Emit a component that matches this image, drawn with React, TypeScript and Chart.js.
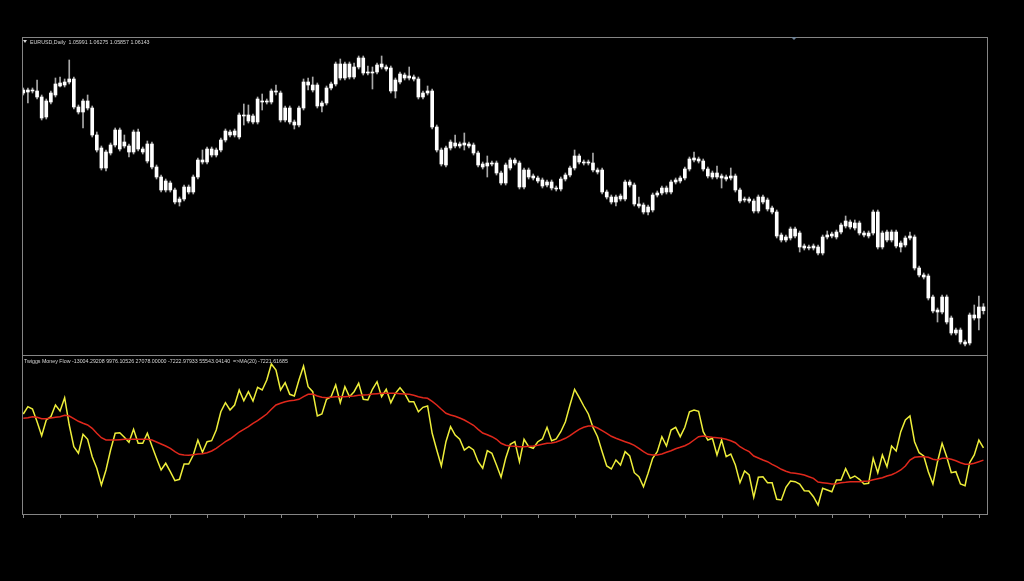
import { useEffect, useRef } from "react";
import { Chart, registerables } from "chart.js";

Chart.register(...registerables);

// EURUSD daily candles, oldest first
const opens = [
  1.1470, 1.1482, 1.1478, 1.1478, 1.1454, 1.1374, 1.1434, 1.1462, 1.1510, 1.1502,
  1.1514, 1.1526, 1.1414, 1.1394, 1.1438, 1.1410, 1.1302, 1.1250, 1.1170, 1.1230,
  1.1262, 1.1322, 1.1258, 1.1258, 1.1234, 1.1314, 1.1246, 1.1198, 1.1266, 1.1174,
  1.1134, 1.1082, 1.1110, 1.1082, 1.1034, 1.1046, 1.1094, 1.1074, 1.1134, 1.1202,
  1.1194, 1.1246, 1.1222, 1.1242, 1.1282, 1.1314, 1.1302, 1.1294, 1.1382, 1.1382,
  1.1354, 1.1354, 1.1438, 1.1434, 1.1434, 1.1478, 1.1470, 1.1362, 1.1410, 1.1354,
  1.1342, 1.1410, 1.1514, 1.1502, 1.1502, 1.1418, 1.1430, 1.1490, 1.1506, 1.1586,
  1.1530, 1.1586, 1.1534, 1.1574, 1.1610, 1.1550, 1.1554, 1.1554, 1.1574, 1.1574,
  1.1570, 1.1478, 1.1514, 1.1542, 1.1530, 1.1534, 1.1526, 1.1454, 1.1470, 1.1478,
  1.1334, 1.1242, 1.1182, 1.1250, 1.1270, 1.1258, 1.1270, 1.1266, 1.1262, 1.1230,
  1.1186, 1.1178, 1.1190, 1.1190, 1.1150, 1.1110, 1.1170, 1.1202, 1.1190, 1.1094,
  1.1162, 1.1138, 1.1130, 1.1122, 1.1102, 1.1114, 1.1090, 1.1086, 1.1126, 1.1142,
  1.1170, 1.1218, 1.1194, 1.1190, 1.1190, 1.1162, 1.1162, 1.1074, 1.1054, 1.1034,
  1.1058, 1.1046, 1.1114, 1.1102, 1.1026, 1.1022, 1.0994, 1.1002, 1.1062, 1.1070,
  1.1090, 1.1074, 1.1114, 1.1118, 1.1130, 1.1166, 1.1202, 1.1206, 1.1198, 1.1166,
  1.1134, 1.1150, 1.1138, 1.1126, 1.1130, 1.1138, 1.1082, 1.1042, 1.1046, 1.1038,
  1.0998, 1.1054, 1.1042, 1.1010, 1.0994, 1.0902, 1.0882, 1.0890, 1.0926, 1.0910,
  1.0858, 1.0850, 1.0850, 1.0854, 1.0830, 1.0894, 1.0898, 1.0894, 1.0914, 1.0938,
  1.0954, 1.0930, 1.0950, 1.0910, 1.0898, 1.0910, 1.0994, 1.0854, 1.0914, 1.0882,
  1.0914, 1.0854, 1.0862, 1.0890, 1.0894, 1.0770, 1.0742, 1.0738, 1.0654, 1.0602,
  1.0594, 1.0654, 1.0570, 1.0510, 1.0522, 1.0466, 1.0470, 1.0570, 1.0570, 1.05991,
];

const highs = [
  1.1490, 1.1490, 1.1490, 1.1522, 1.1462, 1.1446, 1.1478, 1.1530, 1.1534, 1.1526,
  1.1602, 1.1534, 1.1422, 1.1446, 1.1462, 1.1418, 1.1314, 1.1258, 1.1242, 1.1270,
  1.1330, 1.1330, 1.1302, 1.1266, 1.1322, 1.1326, 1.1254, 1.1278, 1.1274, 1.1182,
  1.1142, 1.1126, 1.1118, 1.1090, 1.1054, 1.1102, 1.1102, 1.1142, 1.1210, 1.1242,
  1.1254, 1.1254, 1.1250, 1.1290, 1.1326, 1.1322, 1.1326, 1.1390, 1.1426, 1.1422,
  1.1386, 1.1454, 1.1466, 1.1446, 1.1486, 1.1502, 1.1478, 1.1418, 1.1418, 1.1362,
  1.1418, 1.1526, 1.1530, 1.1534, 1.1510, 1.1438, 1.1498, 1.1514, 1.1594, 1.1606,
  1.1594, 1.1594, 1.1590, 1.1618, 1.1618, 1.1578, 1.1574, 1.1590, 1.1618, 1.1582,
  1.1578, 1.1530, 1.1554, 1.1550, 1.1574, 1.1542, 1.1534, 1.1478, 1.1498, 1.1486,
  1.1342, 1.1250, 1.1258, 1.1282, 1.1302, 1.1274, 1.1310, 1.1274, 1.1270, 1.1238,
  1.1194, 1.1218, 1.1198, 1.1198, 1.1158, 1.1190, 1.1210, 1.1210, 1.1198, 1.1170,
  1.1170, 1.1146, 1.1138, 1.1130, 1.1122, 1.1122, 1.1098, 1.1134, 1.1150, 1.1178,
  1.1242, 1.1226, 1.1202, 1.1202, 1.1230, 1.1170, 1.1170, 1.1082, 1.1062, 1.1062,
  1.1066, 1.1122, 1.1122, 1.1110, 1.1054, 1.1030, 1.1022, 1.1070, 1.1078, 1.1098,
  1.1098, 1.1122, 1.1130, 1.1138, 1.1174, 1.1214, 1.1234, 1.1214, 1.1206, 1.1174,
  1.1158, 1.1178, 1.1146, 1.1142, 1.1170, 1.1146, 1.1090, 1.1054, 1.1054, 1.1046,
  1.1062, 1.1062, 1.1050, 1.1018, 1.1002, 1.0910, 1.0902, 1.0934, 1.0934, 1.0918,
  1.0866, 1.0862, 1.0866, 1.0862, 1.0902, 1.0918, 1.0914, 1.0922, 1.0950, 1.0978,
  1.0962, 1.0962, 1.0958, 1.0918, 1.0918, 1.1002, 1.1002, 1.0918, 1.0922, 1.0922,
  1.0922, 1.0878, 1.0898, 1.0914, 1.0902, 1.0778, 1.0750, 1.0746, 1.0662, 1.0610,
  1.0662, 1.0662, 1.0578, 1.0530, 1.0530, 1.0482, 1.0590, 1.0622, 1.0658, 1.06275,
];

const lows = [
  1.1462, 1.1430, 1.1470, 1.1446, 1.1362, 1.1366, 1.1426, 1.1454, 1.1494, 1.1494,
  1.1506, 1.1406, 1.1386, 1.1330, 1.1402, 1.1294, 1.1234, 1.1162, 1.1158, 1.1222,
  1.1254, 1.1238, 1.1250, 1.1214, 1.1226, 1.1238, 1.1226, 1.1190, 1.1166, 1.1126,
  1.1074, 1.1074, 1.1074, 1.1026, 1.1018, 1.1038, 1.1066, 1.1066, 1.1126, 1.1186,
  1.1186, 1.1214, 1.1214, 1.1234, 1.1274, 1.1294, 1.1294, 1.1286, 1.1342, 1.1350,
  1.1346, 1.1346, 1.1402, 1.1426, 1.1426, 1.1462, 1.1354, 1.1354, 1.1346, 1.1326,
  1.1334, 1.1402, 1.1482, 1.1474, 1.1410, 1.1394, 1.1422, 1.1482, 1.1498, 1.1522,
  1.1522, 1.1526, 1.1526, 1.1566, 1.1542, 1.1542, 1.1486, 1.1546, 1.1566, 1.1558,
  1.1470, 1.1450, 1.1506, 1.1522, 1.1522, 1.1518, 1.1446, 1.1446, 1.1462, 1.1326,
  1.1234, 1.1178, 1.1174, 1.1242, 1.1250, 1.1250, 1.1242, 1.1250, 1.1222, 1.1174,
  1.1166, 1.1134, 1.1178, 1.1142, 1.1102, 1.1102, 1.1162, 1.1182, 1.1086, 1.1086,
  1.1126, 1.1122, 1.1110, 1.1090, 1.1094, 1.1082, 1.1078, 1.1078, 1.1118, 1.1134,
  1.1162, 1.1186, 1.1182, 1.1182, 1.1154, 1.1146, 1.1066, 1.1046, 1.1026, 1.1018,
  1.1038, 1.1038, 1.1094, 1.1018, 1.1010, 1.0986, 1.0982, 1.0994, 1.1054, 1.1062,
  1.1066, 1.1066, 1.1106, 1.1110, 1.1122, 1.1158, 1.1194, 1.1190, 1.1158, 1.1130,
  1.1126, 1.1126, 1.1090, 1.1118, 1.1122, 1.1074, 1.1030, 1.1034, 1.1030, 1.0990,
  1.0990, 1.1026, 1.0998, 1.0986, 1.0890, 1.0874, 1.0874, 1.0882, 1.0890, 1.0834,
  1.0842, 1.0842, 1.0842, 1.0822, 1.0822, 1.0886, 1.0890, 1.0886, 1.0906, 1.0930,
  1.0926, 1.0922, 1.0902, 1.0894, 1.0890, 1.0902, 1.0846, 1.0846, 1.0874, 1.0874,
  1.0850, 1.0834, 1.0854, 1.0882, 1.0762, 1.0734, 1.0726, 1.0642, 1.0590, 1.0554,
  1.0586, 1.0546, 1.0502, 1.0502, 1.0466, 1.0458, 1.0462, 1.0562, 1.0522, 1.05857,
];

const closes = [
  1.1482, 1.1474, 1.1482, 1.1454, 1.1370, 1.1438, 1.1470, 1.1506, 1.1498, 1.1514,
  1.1526, 1.1414, 1.1394, 1.1438, 1.1410, 1.1302, 1.1242, 1.1170, 1.1234, 1.1262,
  1.1322, 1.1246, 1.1274, 1.1234, 1.1314, 1.1246, 1.1234, 1.1266, 1.1174, 1.1134,
  1.1082, 1.1118, 1.1082, 1.1034, 1.1046, 1.1094, 1.1074, 1.1134, 1.1202, 1.1194,
  1.1246, 1.1222, 1.1242, 1.1282, 1.1318, 1.1302, 1.1318, 1.1382, 1.1378, 1.1358,
  1.1378, 1.1446, 1.1434, 1.1438, 1.1478, 1.1474, 1.1362, 1.1410, 1.1354, 1.1342,
  1.1410, 1.1514, 1.1502, 1.1482, 1.1418, 1.1430, 1.1490, 1.1506, 1.1586, 1.1530,
  1.1586, 1.1534, 1.1574, 1.1610, 1.1550, 1.1554, 1.1550, 1.1582, 1.1586, 1.1566,
  1.1478, 1.1522, 1.1546, 1.1530, 1.1538, 1.1526, 1.1454, 1.1470, 1.1478, 1.1334,
  1.1242, 1.1186, 1.1250, 1.1274, 1.1258, 1.1266, 1.1262, 1.1258, 1.1230, 1.1182,
  1.1174, 1.1190, 1.1186, 1.1150, 1.1110, 1.1182, 1.1202, 1.1190, 1.1094, 1.1162,
  1.1134, 1.1130, 1.1118, 1.1098, 1.1114, 1.1090, 1.1086, 1.1126, 1.1142, 1.1170,
  1.1218, 1.1194, 1.1190, 1.1194, 1.1162, 1.1154, 1.1074, 1.1054, 1.1034, 1.1054,
  1.1046, 1.1114, 1.1102, 1.1026, 1.1018, 1.0994, 1.1014, 1.1062, 1.1070, 1.1090,
  1.1074, 1.1114, 1.1122, 1.1130, 1.1166, 1.1206, 1.1210, 1.1198, 1.1166, 1.1138,
  1.1150, 1.1134, 1.1130, 1.1134, 1.1138, 1.1082, 1.1038, 1.1046, 1.1038, 1.0998,
  1.1054, 1.1034, 1.1006, 1.0994, 1.0898, 1.0882, 1.0894, 1.0926, 1.0898, 1.0854,
  1.0850, 1.0854, 1.0858, 1.0830, 1.0894, 1.0902, 1.0906, 1.0914, 1.0942, 1.0958,
  1.0934, 1.0950, 1.0910, 1.0902, 1.0910, 1.0994, 1.0854, 1.0910, 1.0882, 1.0914,
  1.0858, 1.0870, 1.0890, 1.0898, 1.0770, 1.0742, 1.0734, 1.0650, 1.0598, 1.0594,
  1.0654, 1.0554, 1.0510, 1.0522, 1.0474, 1.0474, 1.0582, 1.0582, 1.0614, 1.06143,
];

// Twiggs Money Flow, one value per candle
const tmf = [
  57400, 67620, 64400, 46620, 27020, 49000, 53620, 70000, 61600, 80220,
  42000, 11620, 2380, 28980, 21980, -2380, -18620, -42000, -21000, 7000,
  30380, 31220, 24780, 17780, 35980, 16380, 16380, 30380, 12600, -4620,
  -21000, -11620, -23380, -35980, -34020, -12600, -12600, 0, 21000, 3780,
  18620, 20020, 35000, 60620, 73220, 63000, 70000, 91000, 76020, 88620,
  75600, 94780, 91000, 105000, 127400, 119000, 91000, 101220, 84980, 82600,
  105000, 124600, 95620, 88620, 54600, 57400, 77980, 81620, 98000, 73220,
  95620, 81620, 88620, 100380, 77980, 77000, 91980, 102620, 81620, 91980,
  73220, 86380, 94220, 86380, 74620, 74620, 60620, 66780, 68600, 30380,
  7000, -15400, 18620, 39620, 28000, 21980, 7000, 11620, 7000, -9380,
  -18620, 6020, 2380, -14000, -31220, -4620, 14980, 18620, -9380, 21980,
  11620, 9380, 18620, 22400, 38780, 20020, 22400, 32620, 46620, 70000,
  91980, 80780, 68600, 57400, 38780, 25620, 4620, -15400, -19600, -7000,
  -14000, 4620, -1400, -24780, -30380, -44380, -25620, -4620, 4620, 25620,
  12600, 35000, 38780, 25620, 38780, 60620, 63000, 61180, 32620, 21000,
  23380, 0, 21000, -2380, 1400, -14000, -38780, -22400, -28000, -59220,
  -31220, -30380, -38780, -38780, -62020, -63000, -45220, -36400, -37380, -40600,
  -49980, -50400, -58380, -70000, -46620, -49000, -51380, -35000, -35000, -19180,
  -32620, -29400, -34020, -40600, -39620, -4620, -24780, 0, -16380, 12600,
  5600, 32620, 49000, 54600, 18620, 3220, -1400, -23380, -40600, -9380,
  16380, -2380, -24780, -23380, -40600, -42980, -10780, 0, 21000, 9976.10526,
];

// 20-period moving average of the money flow
const tmfMa = [
  51380, 52220, 53620, 52780, 50820, 50820, 51800, 52780, 53620, 55580,
  54600, 50820, 47180, 44380, 42000, 37380, 30380, 24220, 21000, 21000,
  21000, 21420, 21980, 21980, 21980, 21980, 21980, 21980, 21000, 18200,
  15400, 12600, 9380, 4620, 980, 0, -420, 420, 1400, 1820,
  3220, 5600, 9380, 14000, 18620, 22400, 27020, 32200, 35980, 39620,
  44380, 48020, 52780, 57400, 63980, 70000, 72380, 74620, 76020, 76580,
  77980, 81620, 84980, 85400, 82600, 80780, 80220, 80780, 81620, 81620,
  81620, 82180, 82600, 83580, 84000, 84420, 85400, 85820, 86380, 86380,
  86380, 86380, 85820, 85400, 84980, 83580, 81620, 80220, 79380, 75180,
  70000, 63980, 58380, 56000, 54180, 51800, 49000, 45220, 41580, 35980,
  30800, 28420, 25620, 21980, 16380, 13580, 12600, 12180, 11620, 11620,
  12180, 12600, 13580, 14980, 16380, 16800, 18200, 20580, 23380, 27020,
  31780, 35980, 38780, 40600, 40600, 37800, 34020, 30380, 26180, 23380,
  21000, 18620, 16380, 13580, 9380, 4620, 980, 0, 0, 1400,
  3780, 6020, 8820, 10780, 13020, 16380, 21000, 25620, 26600, 25620,
  24780, 24220, 23380, 21980, 20020, 17220, 11620, 7980, 4620, -1400,
  -4200, -7000, -9380, -13020, -16380, -20020, -22820, -24780, -25620, -26600,
  -28000, -30380, -32620, -37800, -38780, -39620, -40600, -40180, -38780, -38220,
  -37380, -37380, -37380, -36820, -36400, -34580, -33180, -31780, -29400, -27580,
  -24780, -21000, -15400, -7000, -3220, -2380, -2380, -3220, -6020, -7000,
  -4620, -4620, -6020, -7980, -10780, -13020, -13020, -11620, -9380, -7221.61685,
];

// bars that carry a time-axis tick mark
const timeTickBars = [0, 8, 16, 24, 32, 40, 48, 56, 64, 72, 80, 88, 96, 104, 112, 120, 128, 136, 144, 152, 160, 168, 176, 184, 192, 200, 208];

const symbolLabel = "EURUSD,Daily  1.05991 1.06275 1.05857 1.06143";
const indicatorLabel =
  "Twiggs Money Flow -13004.29208 9976.10526 27078.00000 -7222.97933 55543.04140  =>MA(20) -7221.61685";

const X_MIN = -0.283;
const X_MAX = 209.99;
const PRICE_MIN = 1.0422;
const PRICE_MAX = 1.1694;
const FLOW_MIN = -84000;
const FLOW_MAX = 140000;

const FRAME = "#858585";

export default function App() {
  const priceRef = useRef<HTMLCanvasElement | null>(null);
  const flowRef = useRef<HTMLCanvasElement | null>(null);

  useEffect(() => {
    if (!priceRef.current || !flowRef.current) return;

    const wicks = highs.map((h, i) => ({ x: i, y: [lows[i], h] }));
    const bodies = opens.map((o, i) => ({
      x: i,
      y: [Math.min(o, closes[i]), Math.max(o, closes[i])],
    }));

    const priceChart = new Chart(priceRef.current, {
      type: "bar",
      data: {
        datasets: [
          {
            label: "body",
            data: bodies as any,
            backgroundColor: "#ffffff",
            borderWidth: 0,
            barThickness: 3,
            grouped: false,
            order: 0,
          },
          {
            label: "wick",
            data: wicks as any,
            backgroundColor: "#a9a9a9",
            borderWidth: 0,
            barThickness: 1,
            grouped: false,
            order: 1,
          },
        ],
      },
      options: {
        animation: false,
        responsive: false,
        events: [],
        layout: { padding: 0 },
        plugins: { legend: { display: false }, tooltip: { enabled: false } },
        scales: {
          x: { type: "linear", min: X_MIN, max: X_MAX, offset: false, display: false },
          y: { min: PRICE_MIN, max: PRICE_MAX, display: false },
        },
      },
    });

    const tickMarks = {
      id: "tickMarks",
      afterDraw(chart: any) {
        const { ctx, chartArea, scales } = chart;
        ctx.save();
        ctx.strokeStyle = FRAME;
        ctx.lineWidth = 1;
        timeTickBars.forEach((b) => {
          const x = Math.round(scales.x.getPixelForValue(b)) + 0.5;
          ctx.beginPath();
          ctx.moveTo(x, chartArea.bottom);
          ctx.lineTo(x, chartArea.bottom + 3);
          ctx.stroke();
        });
        ctx.restore();
      },
    };

    const flowChart = new Chart(flowRef.current, {
      type: "line",
      data: {
        datasets: [
          {
            label: "MA(20)",
            data: tmfMa.map((v, i) => ({ x: i, y: v })),
            borderColor: "#e0281c",
            borderWidth: 1.5,
            pointRadius: 0,
            tension: 0,
            order: 0,
          },
          {
            label: "Twiggs Money Flow",
            data: tmf.map((v, i) => ({ x: i, y: v })),
            borderColor: "#eeee3a",
            borderWidth: 1.5,
            pointRadius: 0,
            tension: 0,
            order: 1,
          },
        ],
      },
      options: {
        animation: false,
        responsive: false,
        events: [],
        layout: { padding: { left: 0, right: 0, top: 0, bottom: 3 } },
        plugins: { legend: { display: false }, tooltip: { enabled: false } },
        scales: {
          x: { type: "linear", min: X_MIN, max: X_MAX, offset: false, display: false },
          y: { min: FLOW_MIN, max: FLOW_MAX, display: false },
        },
      },
      plugins: [tickMarks],
    });

    return () => {
      priceChart.destroy();
      flowChart.destroy();
    };
  }, []);

  const line = (left: number, top: number, width: number, height: number) => (
    <div style={{ position: "absolute", left, top, width, height, background: FRAME }} />
  );

  const labelStyle: React.CSSProperties = {
    position: "absolute",
    fontFamily: "'Liberation Sans', Arial, sans-serif",
    fontSize: "5.3px",
    lineHeight: "6px",
    color: "#d6d6d6",
    whiteSpace: "pre",
  };

  return (
    <div
      style={{
        position: "fixed",
        left: 0,
        top: 0,
        width: 1024,
        height: 581,
        background: "#000000",
        overflow: "hidden",
      }}
    >
      <canvas
        ref={priceRef}
        width={966}
        height={318}
        style={{ position: "absolute", left: 22, top: 37, width: 966, height: 318 }}
      />
      <canvas
        ref={flowRef}
        width={966}
        height={163}
        style={{ position: "absolute", left: 22, top: 355, width: 966, height: 163 }}
      />
      {line(22, 37, 966, 1)}
      {line(22, 355, 966, 1)}
      {line(22, 514, 966, 1)}
      {line(22, 37, 1, 478)}
      {line(987, 37, 1, 478)}
      <div
        style={{
          position: "absolute",
          left: 23,
          top: 40,
          width: 0,
          height: 0,
          borderLeft: "2px solid transparent",
          borderRight: "2px solid transparent",
          borderTop: "3px solid #d6d6d6",
        }}
      />
      <div style={{ ...labelStyle, left: 30, top: 39 }}>{symbolLabel}</div>
      <div style={{ ...labelStyle, left: 24, top: 358 }}>{indicatorLabel}</div>
      <div
        style={{
          position: "absolute",
          left: 791,
          top: 37,
          width: 0,
          height: 0,
          borderLeft: "3px solid transparent",
          borderRight: "3px solid transparent",
          borderTop: "3px solid #6f8296",
        }}
      />
    </div>
  );
}
